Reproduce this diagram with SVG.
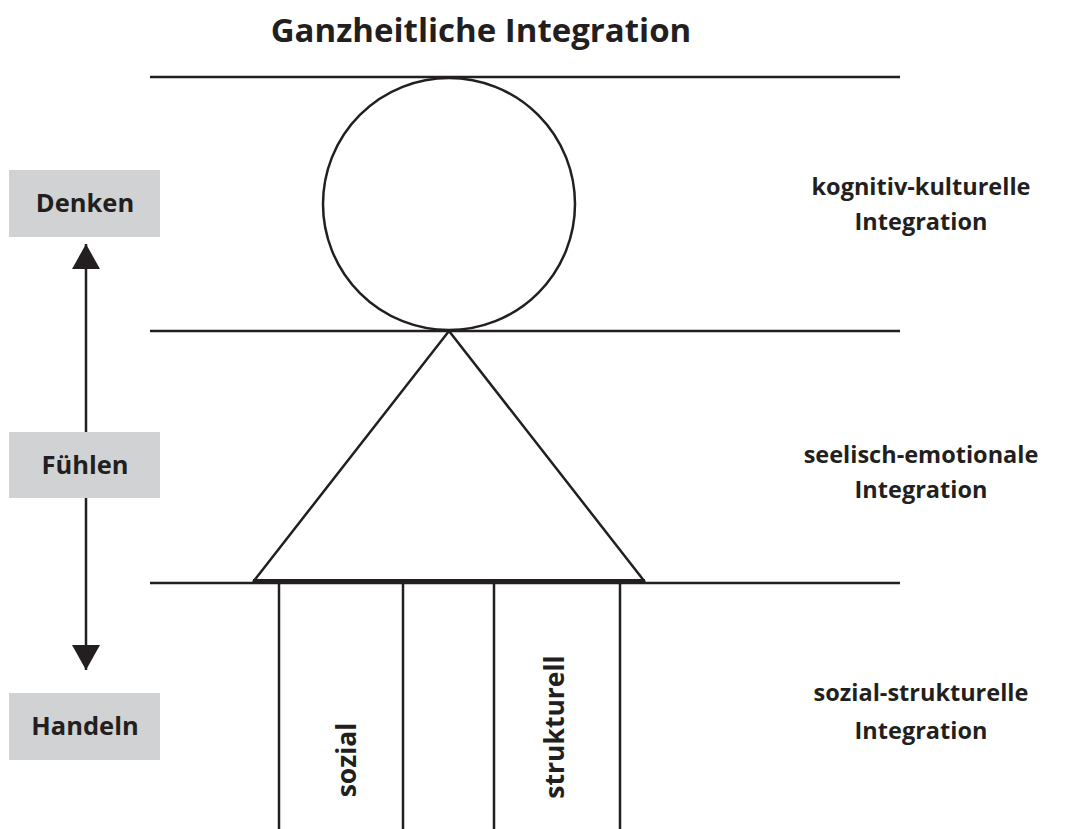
<svg xmlns="http://www.w3.org/2000/svg" width="1083" height="829" viewBox="0 0 1083 829">
<style>
text{font-family:"Open Sans","Liberation Sans",sans-serif;font-weight:bold;fill:#231f20;text-anchor:middle}
.bx{font-size:25.5px}
.lv{font-size:23.5px}
.vt{font-size:26.5px}
.box{fill:#d1d2d4}
.ln{stroke:#231f20;stroke-width:2.5;fill:none}
</style>
<defs>
<marker id="ah" viewBox="0 0 25 28" refX="25" refY="14" markerWidth="25" markerHeight="28" markerUnits="userSpaceOnUse" orient="auto-start-reverse">
<path d="M0,0 L25,14 L0,28 z" fill="#231f20"/>
</marker>
</defs>
<rect width="1083" height="829" fill="#fff"/>
<text x="481" y="42" style="font-size:33px">Ganzheitliche Integration</text>
<g id="bands">
<line class="ln" x1="150" y1="77" x2="900" y2="77"/>
<line class="ln" x1="150" y1="331" x2="900" y2="331"/>
<line class="ln" x1="150" y1="583" x2="900" y2="583"/>
</g>
<g id="figure">
<circle class="ln" cx="449" cy="204" r="126"/>
<path class="ln" d="M253,582 L449,331 L645,582"/>
<line x1="253" y1="581" x2="645" y2="581" stroke="#231f20" stroke-width="4"/>
<line class="ln" x1="279" y1="583" x2="279" y2="829"/>
<line class="ln" x1="403" y1="583" x2="403" y2="829"/>
<line class="ln" x1="494" y1="583" x2="494" y2="829"/>
<line class="ln" x1="620" y1="583" x2="620" y2="829"/>
<text class="vt" transform="translate(356,760) rotate(-90)">sozial</text>
<text class="vt" transform="translate(564,727) rotate(-90)">strukturell</text>
</g>
<g id="denken"><rect class="box" x="9" y="170" width="151" height="67"/><text class="bx" x="85" y="212">Denken</text></g>
<g id="fuehlen"><rect class="box" x="9" y="432" width="151" height="66"/><text class="bx" x="85" y="474">Fühlen</text></g>
<g id="handeln"><rect class="box" x="9" y="693" width="151" height="67"/><text class="bx" x="85" y="735">Handeln</text></g>
<g id="connectors">
<line x1="86" y1="432" x2="86" y2="244" stroke="#231f20" stroke-width="2.5" marker-end="url(#ah)"/>
<line x1="86" y1="498" x2="86" y2="670" stroke="#231f20" stroke-width="2.5" marker-end="url(#ah)"/>
</g>
<g id="levels">
<text class="lv" x="921" y="195">kognitiv-kulturelle</text>
<text class="lv" x="921" y="230">Integration</text>
<text class="lv" x="921" y="463">seelisch-emotionale</text>
<text class="lv" x="921" y="498">Integration</text>
<text class="lv" x="921" y="701">sozial-strukturelle</text>
<text class="lv" x="921" y="739">Integration</text>
</g>
</svg>
